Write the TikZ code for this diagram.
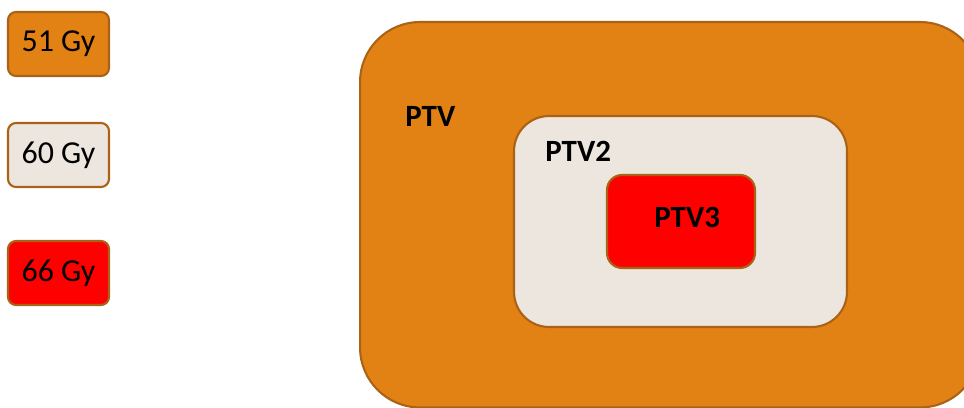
\documentclass[tikz,border=0pt]{standalone}
\usepackage{fontspec}
\setmainfont{Carlito}
\usepackage{xcolor}
\usepackage{tikz}

\definecolor{doseorange}{RGB}{227,130,20}
\definecolor{dosebeige}{RGB}{236,230,222}
\definecolor{dosered}{RGB}{255,0,0}
\definecolor{edgebrown}{RGB}{170,98,22}

\tikzset{
  legendbox/.style={draw=edgebrown, line width=1.2pt, rounded corners=0.16cm,
    minimum width=2.02cm, minimum height=1.28cm, inner sep=0pt,
    font=\fontsize{18.2}{22}\selectfont},
  volume/.style={draw=edgebrown, line width=1.2pt, inner sep=0pt},
  ptvlabel/.style={anchor=base west, inner sep=0pt,
    font=\fontsize{17.6}{20}\selectfont\bfseries}
}

\begin{document}
\begin{tikzpicture}[x=0.02cm, y=-0.02cm]
  \useasboundingbox (0,0) rectangle (964,408);
  % legend
  \node[legendbox, fill=doseorange] (d51) at (58.5,44) {51 Gy};
  \node[legendbox, fill=dosebeige]  (d60) at (58.5,155) {60 Gy};
  \node[legendbox, fill=dosered]    (d66) at (58.5,273) {\raisebox{-2pt}{66 Gy}};
  % nested volumes
  \node[volume, fill=doseorange, rounded corners=1.2cm,
    minimum width=12.4cm, minimum height=7.71cm] (ptv) at (670,214.75) {};
  \node[volume, fill=dosebeige, rounded corners=0.7cm,
    minimum width=6.66cm, minimum height=4.22cm] (ptv2) at (680.5,221.5) {};
  \node[volume, fill=dosered, rounded corners=0.3cm,
    minimum width=2.96cm, minimum height=1.86cm] (ptv3) at (681,221.5) {};
  \node[ptvlabel] (ptvname)  at (405,127) {PTV};
  \node[ptvlabel] (ptv2name) at (545,162) {PTV2};
  \node[ptvlabel] (ptv3name) at (654,228) {PTV3};
\end{tikzpicture}
\end{document}
